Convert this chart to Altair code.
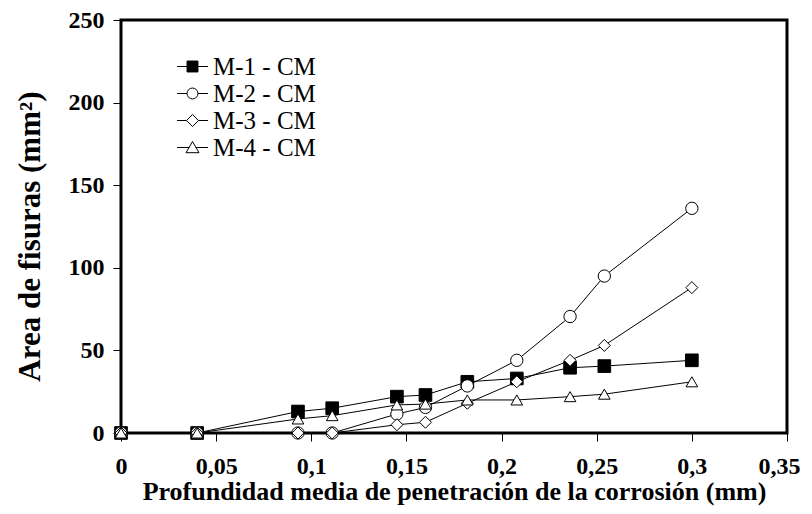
import altair as alt
import pandas as pd

# ---- data ----
depth = [0, 0.04, 0.093, 0.111, 0.145, 0.16, 0.182, 0.208, 0.236, 0.254, 0.3]
series_names = ["M-1 - CM", "M-2 - CM", "M-3 - CM", "M-4 - CM"]
m1 = [0, 0, 13, 15, 22, 23, 31, 33, 39.5, 40.5, 44]
m2 = [0, 0, 0, 0, 11.5, 15.5, 28.5, 44, 70.5, 95, 136]
m3 = [0, 0, 0, 0, 5, 6.5, 18, 31, 44, 53, 88]
m4 = [0, 0, 8.5, 10.5, 17, 17.5, 20, 20, 22, 23.5, 31]
x_ticks = [0, 0.05, 0.1, 0.15, 0.2, 0.25, 0.3, 0.35]
y_ticks = [0, 50, 100, 150, 200, 250]

rows = []
for order, (name, vals) in enumerate(zip(series_names, [m1, m2, m3, m4])):
    for xv, yv in zip(depth, vals):
        rows.append({"serie": name, "orden": order, "x": xv, "y": yv})
df = pd.DataFrame(rows)

FONT = "Liberation Serif"
fills = ["black", "white", "white", "white"]

x_enc = alt.X("x:Q", scale=alt.Scale(domain=[0, 0.35], nice=False, zero=False),
              axis=alt.Axis(values=x_ticks,
                            labelExpr="replace(format(datum.value, '.2~f'), '.', ',')",
                            title="Profundidad media de penetración de la corrosión (mm)",
                            labelPadding=13, titlePadding=0, titleFontSize=26,
                            labelFlush=False, labelOverlap=False,
                            labelAlign={"condition": {"test": "datum.value >= 0.34", "value": "right"},
                                        "value": "center"},
                            labelOffset={"condition": {"test": "datum.value >= 0.34", "value": 13},
                                         "value": 0}))
y_enc = alt.Y("y:Q", scale=alt.Scale(domain=[0, 250], nice=False),
              axis=alt.Axis(values=y_ticks, title="Area de fisuras (mm²)",
                            labelPadding=9, titlePadding=22, titleFontSize=31,
                            titleY=216, labelFlush=False, labelOverlap=False))

base = alt.Chart(df)

lines = base.mark_line(color="black", strokeWidth=1).encode(
    x=x_enc, y=y_enc, detail="serie:N", order="x:Q"
)

points = base.mark_point(filled=True, stroke="black", strokeWidth=1, opacity=1).encode(
    x="x:Q", y="y:Q",
    shape=alt.Shape("serie:N", scale=alt.Scale(domain=series_names,
                    range=["square", "circle", "diamond", "triangle-up"]), legend=None),
    fill=alt.Fill("serie:N", scale=alt.Scale(domain=series_names, range=fills), legend=None),
    size=alt.Size("serie:N", scale=alt.Scale(domain=series_names,
                  range=[160, 135, 150, 170]), legend=None),
    order="orden:Q",
)

legend_paths = [
    "M-1.19,0H-0.42M0.42,0H1.19M-0.42,-0.42H0.42V0.42H-0.42Z",
    "M-1.19,0H-0.42M0.42,0H1.19M-0.42,0A0.42,0.42,0,1,0,0.42,0A0.42,0.42,0,1,0,-0.42,0Z",
    "M-1.19,0H-0.46M0.46,0H1.19M-0.46,0L0,-0.46L0.46,0L0,0.46Z",
    "M-1.19,0H-0.25M0.25,0H1.19M0,-0.46L0.5,0.4L-0.5,0.4Z",
]

leg = alt.Legend(
    title=None, orient="none", legendX=58, legendY=33,
    symbolSize=676, padding=0, rowPadding=0, labelOffset=7,
    labelFont=FONT, labelFontSize=25, labelFontWeight="normal",
    labelColor="black", labelLimit=0,
    symbolStrokeWidth=1, symbolOpacity=1,
)

legend_layer = base.transform_filter("datum.x < 0").mark_point(
    filled=False, strokeWidth=1
).encode(
    x="x:Q", y="y:Q",
    shape=alt.Shape("serie:N", scale=alt.Scale(domain=series_names, range=legend_paths),
                    legend=leg),
    fill=alt.Fill("serie:N", scale=alt.Scale(domain=series_names, range=fills),
                  legend=leg),
    stroke=alt.Stroke("serie:N", scale=alt.Scale(domain=series_names,
                      range=["black", "black", "black", "black"]), legend=leg),
)

chart = alt.layer(lines, points, legend_layer).resolve_scale(
    shape="independent", fill="independent", stroke="independent"
).properties(
    width=666, height=413,
    autosize=alt.AutoSizeParams(type="none"),
    padding={"left": 113, "top": 12, "right": 17, "bottom": 73},
    background="white",
).configure_view(
    stroke="black", strokeWidth=3
).configure_axis(
    grid=False, domain=False,
    tickColor="black", tickWidth=1, tickSize=8,
    labelFont=FONT, labelFontSize=24, labelFontWeight="bold", labelColor="black",
    titleFont=FONT, titleFontWeight="bold", titleColor="black",
)

chart.save("out.html", embed_options={"renderer": "svg", "actions": False})
